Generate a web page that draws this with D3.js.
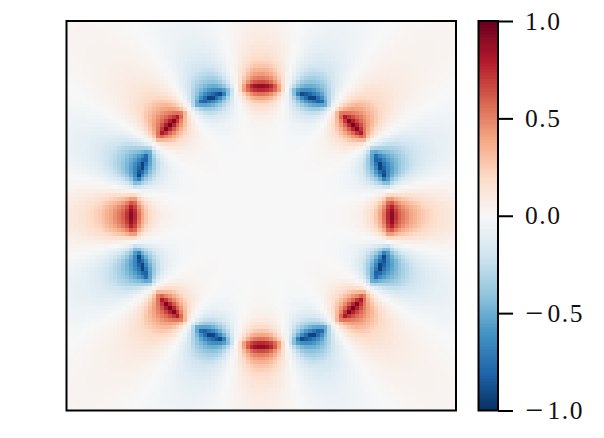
<!DOCTYPE html>
<html><head><meta charset="utf-8">
<script src="https://cdn.jsdelivr.net/npm/d3@7"></script>
<style>html,body{margin:0;background:#fff}svg{display:block}
text{font-family:"Liberation Serif",serif;font-size:25.5px;fill:#111;letter-spacing:1.5px}</style>
</head><body><svg id="c" width="604" height="438"></svg>
<script>
// colour stops of the map (top = +1 ... bottom = -1)
const colorStops = ["#67001f","#b2182b","#d6604d","#f4a582","#fddbc7","#f7f7f7","#d1e5f0","#92c5de","#4393c3","#2166ac","#053061"];
const colorTicks = [1,0.5,0,-0.5,-1];
// lobes around the ring: direction (degrees from the top), sign, strength of the outer tail
const lobeAngles = [0,22.5,45,67.5,90,112.5,135,157.5,180,202.5,225,247.5,270,292.5,315,337.5];
const lobeSigns  = [1,-1,1,-1,1,-1,1,-1,1,-1,1,-1,1,-1,1,-1];
const lobeTails  = [.8,.9,1,1.15,1.3,1.15,1,.9,.8,.9,1,1.15,1.3,1.15,1,.9];
// values: radius from the centre (rows) x angle off the lobe axis (columns)
const radii = [0,60,85,100,110,116,120,124,127,129,131,134,138,143,150,160,175,190,220,280];
const offsets = [0,2,4,6,8,10,11.25];
const lobeValues = [
 [0,0,0,0,0,0,0],
 [.002,.002,.002,.001,.001,0,0],
 [.015,.015,.012,.009,.005,.002,0],
 [.06,.058,.052,.04,.023,.007,0],
 [.17,.165,.145,.11,.066,.02,0],
 [.31,.30,.265,.205,.12,.038,0],
 [.44,.43,.38,.29,.175,.055,0],
 [.62,.60,.54,.42,.26,.08,0],
 [.80,.78,.71,.57,.36,.11,0],
 [1.0,.98,.92,.76,.50,.15,0],
 [.85,.83,.76,.61,.39,.12,0],
 [.70,.68,.61,.48,.30,.09,0],
 [.56,.54,.49,.38,.235,.072,0],
 [.45,.44,.39,.30,.18,.058,0],
 [.33,.32,.285,.215,.13,.042,0],
 [.21,.205,.18,.135,.082,.026,0],
 [.125,.12,.105,.08,.05,.016,0],
 [.08,.078,.068,.052,.032,.01,0],
 [.04,.039,.034,.026,.016,.005,0],
 [.02,.02,.017,.013,.008,.003,0]
];
const peakRadius = 129, tailRamp = 30;
const gridSize = 100;
const fieldExtent = [-194.5,194.5];

const svg = d3.select("#c");
const plot = {x0:66.5,x1:456,y0:21,y1:410.5};
const x = d3.scaleLinear().domain(fieldExtent).range([plot.x0,plot.x1]);
const y = d3.scaleLinear().domain(fieldExtent).range([plot.y1,plot.y0]);
const color = d3.scaleLinear().domain(d3.range(colorStops.length).map(i=>1-i*0.2)).range(colorStops).clamp(true);

const rowOf = d3.scaleLinear().domain(radii).range(d3.range(radii.length)).clamp(true);
const colOf = d3.scaleLinear().domain(offsets).range(d3.range(offsets.length)).clamp(true);
const tailMix = d3.scaleLinear().domain([peakRadius,peakRadius+tailRamp]).range([0,1]).clamp(true);
function lookup(r,o){
  const a=rowOf(r),b=colOf(o);
  const i=Math.min(Math.floor(a),radii.length-2),j=Math.min(Math.floor(b),offsets.length-2);
  const s=a-i,t=b-j;
  return d3.interpolateNumber(
    d3.interpolateNumber(lobeValues[i][j],lobeValues[i][j+1])(t),
    d3.interpolateNumber(lobeValues[i+1][j],lobeValues[i+1][j+1])(t))(s);
}
function fieldAt(u,v){
  const r=Math.hypot(u,v);
  const deg=(Math.atan2(u,v)*180/Math.PI+360)%360;
  const k=Math.round(deg/22.5)%lobeAngles.length;
  let o=Math.abs(deg-lobeAngles[k]); if(o>180)o=360-o;
  const gain=1+(lobeTails[k]-1)*tailMix(r);
  return lobeSigns[k]*gain*lookup(r,o);
}
const step=(fieldExtent[1]-fieldExtent[0])/gridSize;
const cells=[];
for(let j=0;j<gridSize;j++)for(let i=0;i<gridSize;i++){
  const u=fieldExtent[0]+(i+.5)*step,v=fieldExtent[0]+(j+.5)*step;
  cells.push({u,v,val:fieldAt(u,v)});
}
svg.append("g").attr("shape-rendering","crispEdges").selectAll("rect").data(cells).join("rect")
  .attr("x",d=>x(d.u-step/2)).attr("y",d=>y(d.v+step/2))
  .attr("width",x(step)-x(0)+.6).attr("height",y(0)-y(step)+.6)
  .attr("fill",d=>color(d.val));
svg.append("rect").attr("x",plot.x0).attr("y",plot.y0).attr("width",plot.x1-plot.x0).attr("height",plot.y1-plot.y0)
  .attr("fill","none").attr("stroke","#000").attr("stroke-width",2);

// colour bar
const bar={x0:478.5,x1:498};
const cy=d3.scaleLinear().domain([-1,1]).range([plot.y1,plot.y0]);
const levels=d3.range(256).map(i=>-1+2*(i+.5)/256);
svg.append("g").attr("shape-rendering","crispEdges").selectAll("rect").data(levels).join("rect")
  .attr("x",bar.x0).attr("width",bar.x1-bar.x0)
  .attr("y",d=>cy(d+1/256)).attr("height",(plot.y1-plot.y0)/256+.6)
  .attr("fill",d=>color(d));
svg.append("rect").attr("x",bar.x0).attr("y",plot.y0).attr("width",bar.x1-bar.x0).attr("height",plot.y1-plot.y0)
  .attr("fill","none").attr("stroke","#000").attr("stroke-width",2);
const ax=d3.axisRight(cy).tickValues(colorTicks).tickSize(15).tickPadding(12).tickFormat(d3.format(".1f"));
const g=svg.append("g").attr("transform",`translate(${bar.x1},0)`).call(ax);
g.select(".domain").remove();
g.selectAll(".tick line").attr("stroke","#000").attr("stroke-width",2);
g.selectAll(".tick text").attr("fill","#111").each(function(d){
  if(d>=0) return;
  const t=d3.select(this), s=t.text(), dy=t.attr("dy");
  t.text(null);
  t.append("tspan").attr("dy",dy).style("font-size","32px").text(s[0]);
  t.append("tspan").attr("dx",3).attr("dy",2*0-1.9+"px").text(s.slice(1));
});
</script></body></html>
